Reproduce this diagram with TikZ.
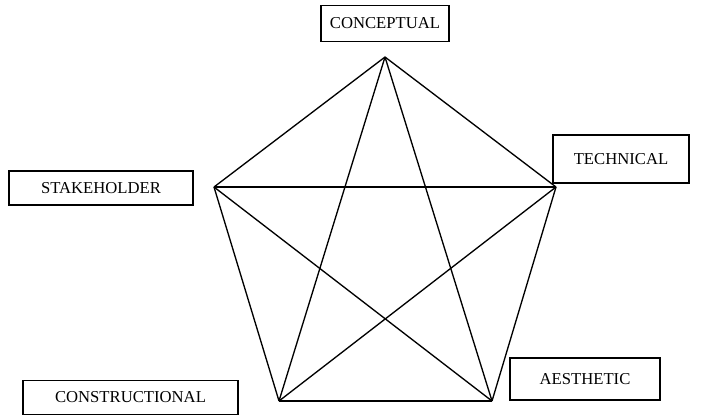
\documentclass[tikz,border=0pt]{standalone}
\usepackage{fontspec}
\setmainfont{Liberation Serif}
\usetikzlibrary{positioning}

\begin{document}
\begin{tikzpicture}[
		x=0.75pt,y=-0.75pt,
		labelbox/.style={draw,line width=1.3pt,inner sep=0pt,align=center,font=\fontsize{12.5}{14}\selectfont},
		star/.style={line width=1pt}
		]
		\clip (0,0) rectangle (705,415);
		% corners of the pentagon
		\coordinate (pcon) at (385,57);
		\coordinate (ptec) at (556,187);
		\coordinate (paes) at (492,401);
		\coordinate (pcst) at (279,401);
		\coordinate (pstk) at (214,187);
		\path[star]
		(pcon) edge (ptec)
		(ptec) edge (paes)
		(paes) edge (pcst)
		(pcst) edge (pstk)
		(pstk) edge (pcon)
		(pcon) edge (paes)
		(pcon) edge (pcst)
		(pstk) edge (ptec)
		(pstk) edge (paes)
		(ptec) edge (pcst);
		% labels
		\node[labelbox,minimum width=96pt,minimum height=27pt] (conceptual) at (385,23.5) {CONCEPTUAL};
		\node[labelbox,minimum width=102pt,minimum height=36pt] (technical) at (621,159) {TECHNICAL};
		\node[labelbox,minimum width=138pt,minimum height=25.5pt] (stakeholder) at (101,188) {STAKEHOLDER};
		\node[labelbox,minimum width=161pt,minimum height=25.5pt] (constructional) at (130.5,397.5) {CONSTRUCTIONAL};
		\node[labelbox,minimum width=112.5pt,minimum height=31.5pt] (aesthetic) at (585,379) {AESTHETIC};
	\end{tikzpicture}
\end{document}
